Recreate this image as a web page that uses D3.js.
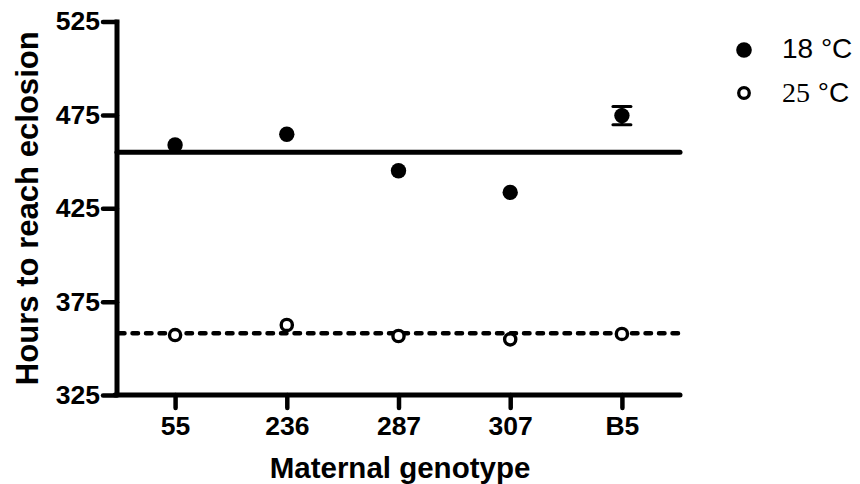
<!DOCTYPE html>
<html>
<head>
<meta charset="utf-8">
<script src="https://cdn.jsdelivr.net/npm/d3@7"></script>
<style>
  body { margin: 0; background: #fff; }
  svg { display: block; }
</style>
</head>
<body>
<svg id="chart" width="860" height="484"></svg>
<script>
// chart data
var genotypes = ["55", "236", "287", "307", "B5"];
var hours18 = [458.9, 464.6, 445.1, 433.5, 474.6];
var sem18 = [0, 0, 0, 0, 4.9];
var hours25 = [357.1, 362.5, 356.6, 354.8, 357.7];
var meanLines = [455.0, 358.0];   // 18 °C, 25 °C
var yTicks = [325, 375, 425, 475, 525];

var svg = d3.select("#chart");
var font = "'Liberation Sans', Arial, sans-serif";

var x = d3.scalePoint()
  .domain(genotypes)
  .range([117, 680])
  .padding(0.52);

var y = d3.scaleLinear()
  .domain([325, 525])
  .range([395, 21.5]);

// axes
var yAxis = svg.append("g")
  .attr("transform", "translate(117,0)")
  .call(d3.axisLeft(y).tickValues(yTicks).tickSize(14).tickPadding(3).tickFormat(d3.format("d")));

var xAxis = svg.append("g")
  .attr("transform", "translate(0,395)")
  .call(d3.axisBottom(x).tickSize(13).tickPadding(8));

[yAxis, xAxis].forEach(function(g) {
  g.select(".domain").remove();
  g.selectAll(".tick line")
    .attr("stroke", "#000")
    .attr("stroke-width", 4.5)
    .attr("stroke-linecap", "round");
  g.selectAll(".tick text")
    .attr("fill", "#000")
    .style("font-family", font)
    .style("font-weight", "bold")
    .style("font-size", "26.5px");
});

// axis lines drawn separately so ends are square like the original
svg.append("line")
  .attr("x1", 117).attr("x2", 117)
  .attr("y1", y(525) - 2).attr("y2", y(325) + 2)
  .attr("stroke", "#000").attr("stroke-width", 5);
svg.append("line")
  .attr("x1", 115).attr("x2", 680)
  .attr("y1", y(325)).attr("y2", y(325))
  .attr("stroke", "#000").attr("stroke-width", 5)
  .attr("stroke-linecap", "round");

// mean lines
svg.append("line")
  .attr("x1", 117).attr("x2", 680)
  .attr("y1", y(meanLines[0])).attr("y2", y(meanLines[0]))
  .attr("stroke", "#000").attr("stroke-width", 5)
  .attr("stroke-linecap", "round");
svg.append("line")
  .attr("x1", 119).attr("x2", 680)
  .attr("y1", y(meanLines[1])).attr("y2", y(meanLines[1]))
  .attr("stroke", "#000").attr("stroke-width", 4.5)
  .attr("stroke-linecap", "round")
  .attr("stroke-dasharray", "5.5 8");

// error bars (18 °C)
var errs = genotypes.map(function(g, i) { return { g: g, v: hours18[i], e: sem18[i] }; })
  .filter(function(d) { return d.e > 0; });
var eb = svg.append("g").attr("stroke", "#000").attr("stroke-width", 3);
errs.forEach(function(d) {
  eb.append("line")
    .attr("x1", x(d.g)).attr("x2", x(d.g))
    .attr("y1", y(d.v + d.e)).attr("y2", y(d.v - d.e));
  [d.v + d.e, d.v - d.e].forEach(function(v) {
    eb.append("line")
      .attr("x1", x(d.g) - 9).attr("x2", x(d.g) + 9)
      .attr("y1", y(v)).attr("y2", y(v))
      .attr("stroke-linecap", "round");
  });
});

// points
svg.append("g").selectAll("circle")
  .data(genotypes)
  .enter()
  .append("circle")
    .attr("cx", function(d) { return x(d); })
    .attr("cy", function(d, i) { return y(hours18[i]); })
    .attr("r", 7.7)
    .attr("fill", "#000");

svg.append("g").selectAll("circle")
  .data(genotypes)
  .enter()
  .append("circle")
    .attr("cx", function(d) { return x(d); })
    .attr("cy", function(d, i) { return y(hours25[i]); })
    .attr("r", 5.6)
    .attr("fill", "#fff")
    .attr("stroke", "#000")
    .attr("stroke-width", 3.4);

// axis titles
svg.append("text")
  .attr("transform", "translate(38," + ((y(525) + y(325)) / 2) + ") rotate(-90)")
  .attr("text-anchor", "middle")
  .attr("textLength", 354)
  .attr("lengthAdjust", "spacingAndGlyphs")
  .style("font-family", font)
  .style("font-weight", "bold")
  .style("font-size", "32px")
  .text("Hours to reach eclosion");

svg.append("text")
  .attr("x", 400)
  .attr("y", 478)
  .attr("text-anchor", "middle")
  .style("font-family", font)
  .style("font-weight", "bold")
  .style("font-size", "29.5px")
  .text("Maternal genotype");

// legend
var legend = svg.append("g");
legend.append("circle")
  .attr("cx", 744).attr("cy", 50).attr("r", 7.8)
  .attr("fill", "#000");
legend.append("circle")
  .attr("cx", 744).attr("cy", 93).attr("r", 5.3)
  .attr("fill", "#fff").attr("stroke", "#000").attr("stroke-width", 3.3);
legend.append("text")
  .attr("x", 782).attr("y", 58)
  .style("font-family", font)
  .style("font-size", "28px")
  .text("18 °C");
var t25 = legend.append("text")
  .attr("x", 782).attr("y", 102)
  .style("font-size", "28px");
t25.append("tspan")
  .style("font-family", "'Liberation Serif', 'Times New Roman', serif")
  .text("25");
t25.append("tspan")
  .style("font-family", font)
  .text(" °C");
</script>
</body>
</html>
